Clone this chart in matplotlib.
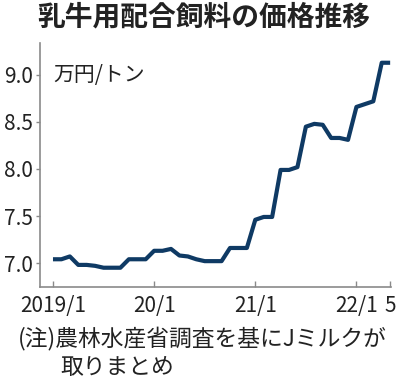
import matplotlib
matplotlib.use("Agg")
import matplotlib.pyplot as plt
import numpy as np

plt.rcParams['font.family'] = ['Noto Sans CJK JP', 'DejaVu Sans']

# monthly price, 2019/1 - 2022/5 (10k yen per ton)
prices = [7.04, 7.04, 7.07, 6.98, 6.98, 6.97, 6.95, 6.95, 6.95, 7.04, 7.04, 7.04,
          7.13, 7.13, 7.15, 7.08, 7.07, 7.04, 7.02, 7.02, 7.02, 7.16, 7.16, 7.16,
          7.46, 7.49, 7.49, 7.99, 7.99, 8.02, 8.45, 8.48, 8.47, 8.33, 8.33, 8.31,
          8.66, 8.69, 8.72, 9.13, 9.13]
tick_months = [0, 12, 24, 36, 40]
tick_labels = ['2019/1', '20/1', '21/1', '22/1', '5']
y_ticks = [7.0, 7.5, 8.0, 8.5, 9.0]

line_color = '#0f3a64'
axis_color = '#8a8a8a'

fig = plt.figure(figsize=(4.08, 3.89), dpi=100)
ax = fig.add_axes([40/408, 102/389, 351/408, 244/389])

months = np.arange(len(prices))
ax.plot(months, prices, color=line_color, linewidth=3.0, solid_capstyle='butt',
        solid_joinstyle='round')

ax.set_xlim(-1.54, 40.1)
ax.set_ylim(6.745, 9.34)

ax.spines['top'].set_visible(False)
ax.spines['right'].set_visible(False)
for s in ['left', 'bottom']:
    ax.spines[s].set_color(axis_color)
    ax.spines[s].set_linewidth(1.2)

ax.set_xticks(tick_months)
ax.set_xticklabels(tick_labels)
ax.set_yticks(y_ticks)
ax.set_yticklabels([f'{v:.1f}' for v in y_ticks])
ax.tick_params(axis='x', direction='in', length=4, width=1, color=axis_color,
               labelsize=15, pad=6, labelcolor='#222222')
ax.tick_params(axis='y', direction='out', length=3, width=1, color=axis_color,
               labelsize=15, pad=2, labelcolor='#222222')

ax.text(13/351, 1 - 32/244, '万円/トン', transform=ax.transAxes, fontsize=15,
        va='center', ha='left', color='#222222')

fig.text(37/408, 1 - 17/389, '乳牛用配合飼料の価格推移', fontsize=20, fontweight='bold',
         va='center', ha='left', color='#222222')
fig.text(18/408, 1 - 338/389, '(注)農林水産省調査を基にJミルクが', fontsize=16.4,
         va='center', ha='left', color='#222222')
fig.text(60/408, 1 - 367/389, '取りまとめ', fontsize=16.4,
         va='center', ha='left', color='#222222')

fig.savefig('out.png', dpi=100, facecolor='white')
